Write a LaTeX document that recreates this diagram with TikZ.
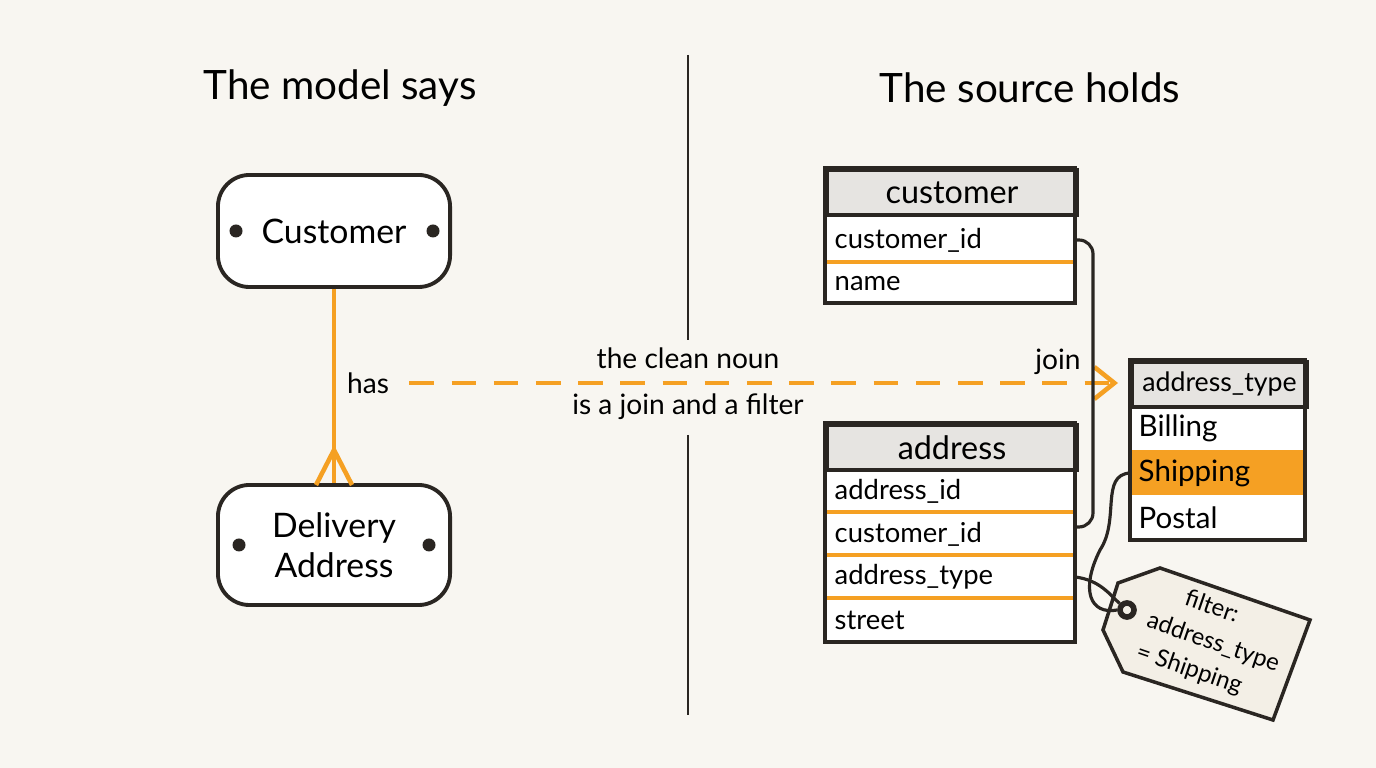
\documentclass[tikz,border=0pt]{standalone}
\usepackage{fontspec}
\setmainfont{Lato}
\usetikzlibrary{arrows.meta}
\definecolor{paper}{HTML}{F8F6F1}
\definecolor{ink}{HTML}{2A2622}
\definecolor{amber}{HTML}{F5A023}
\definecolor{headgray}{HTML}{E6E4E1}
\definecolor{tagfill}{HTML}{F3EFE6}
\tikzset{
  entity/.style={draw=ink, line width=1.1pt, rounded corners=9pt, fill=white,
    minimum width=2.32cm, align=center, font=\fontsize{9.6}{11.5}\selectfont},
  dotmark/.style={circle, fill=ink, inner sep=0pt, minimum size=1.3mm},
  tblhead/.style={draw=ink, line width=1.1pt, fill=headgray, anchor=north west,
    minimum height=0.45cm, inner sep=0pt, font=\fontsize{9.2}{10}\selectfont},
  tblrow/.style={anchor=west, inner sep=0pt, font=\fontsize{7.8}{9}\selectfont},
  sepline/.style={amber, line width=0.9pt},
  frame/.style={draw=ink, line width=1.1pt},
  wire/.style={ink, line width=0.9pt, rounded corners=4pt}
}
\begin{document}
\begin{tikzpicture}[x=0.01cm, y=-0.01cm]
  \fill[paper] (0,0) rectangle (1376,768);

  % Titoli e separatore
  \node (lefttitle) at (340,88) {\fontsize{11.5}{13}\selectfont The model says};
  \node (righttitle) at (1030,88) {\fontsize{11.5}{13}\selectfont The source holds};
  \draw[ink, line width=0.6pt] (688,55) -- (688,340);
  \draw[ink, line width=0.6pt] (688,435) -- (688,715);

  % Modello concettuale
  \node[entity, minimum height=1.12cm] (cust) at (334,231) {Customer};
  \node[entity, minimum height=1.2cm] (deliv) at (334,545) {Delivery\\Address};
  \node[dotmark] at (236,231) {};
  \node[dotmark] at (433,231) {};
  \node[dotmark] at (239,545) {};
  \node[dotmark] at (429,545) {};
  \draw[amber, line width=1.3pt] (cust.south) -- (deliv.north);
  \coordinate (crow) at (334,450);
  \draw[amber, line width=1.3pt] (crow) -- (316,485) (crow) -- (352,485);
  \node (has) at (368,383) {\fontsize{8}{9}\selectfont has};

  % Freccia tratteggiata
  \coordinate (dashend) at (1118,383);
  \draw[amber, line width=1.3pt, dash pattern=on 7pt off 5pt, -{Straight Barb[length=2mm,width=3.2mm]}]
    (has.east) ++(8,0) -- (dashend);
  \node[align=center, font=\fontsize{8}{13}\selectfont] (note) at (688,384) {the clean noun\\is a join and a filter};
  \node (join) at (1058,362) {\fontsize{8}{9}\selectfont join};

  % Tabella customer
  \fill[white] (825,168) rectangle (1075,303);
  \node[tblhead, minimum width=2.5cm] (custhead) at (825,168) {customer};
  \node[tblrow] (cid) at (834,240) {customer\_id};
  \node[tblrow] (cname) at (834,284) {name};
  \draw[sepline] (825,262) -- (1075,262);
  \draw[frame] (825,168) rectangle (1075,303);

  % Tabella address
  \fill[white] (825,423) rectangle (1075,642);
  \node[tblhead, minimum width=2.5cm] (addrhead) at (825,423) {address};
  \node[tblrow] (aid) at (834,491) {address\_id};
  \node[tblrow] (acid) at (834,534) {customer\_id};
  \node[tblrow] (atype) at (834,577) {address\_type};
  \node[tblrow] (astreet) at (834,620) {street};
  \foreach \y in {512,555,598} \draw[sepline] (825,\y) -- (1075,\y);
  \draw[frame] (825,423) rectangle (1075,642);

  % Tabella address_type
  \fill[white] (1130,360) rectangle (1305,540);
  \fill[amber] (1130,450) rectangle (1305,495);
  \node[tblhead, minimum width=1.75cm, font=\fontsize{7.6}{9}\selectfont] (typehead) at (1130,360) {address\_type};
  \node[tblrow, font=\fontsize{8.4}{9}\selectfont] (billing) at (1138,428) {Billing};
  \node[tblrow, font=\fontsize{8.4}{9}\selectfont] (shipping) at (1138,473) {Shipping};
  \node[tblrow, font=\fontsize{8.4}{9}\selectfont] (postal) at (1138,518) {Postal};
  \draw[frame] (1130,360) rectangle (1305,540);

  % Join tra le tabelle
  \coordinate (custright) at (1075,240);
  \coordinate (acidright) at (1075,527);
  \draw[wire] (custright) -- (1093,240) -- (1093,527) -- (acidright);

  % Cartellino del filtro
  \draw[ink, line width=1pt, fill=tagfill] (1160,568) -- (1310,620) -- (1273,720) -- (1123,672) -- (1103,630) -- (1118,583) -- cycle;
  \node[circle, draw=ink, line width=1.6pt, minimum size=1.4mm, inner sep=0pt] (hole) at (1127,610) {};
  \node[rotate=-19, align=left, font=\fontsize{6.8}{9.4}\selectfont] (tagtext) at (1213,643) {\hspace*{1.2em}filter:\\address\_type\\= Shipping};
  \coordinate (typeright) at (1075,577);
  \draw[ink, line width=0.9pt] (typeright) .. controls (1100,580) and (1110,595) .. (hole);
  \coordinate (shipleft) at (1130,473);
  \draw[ink, line width=0.9pt] (shipleft) .. controls (1100,475) and (1120,520) .. (1100,550)
    .. controls (1080,590) and (1090,615) .. (hole.west);
\end{tikzpicture}
\end{document}
